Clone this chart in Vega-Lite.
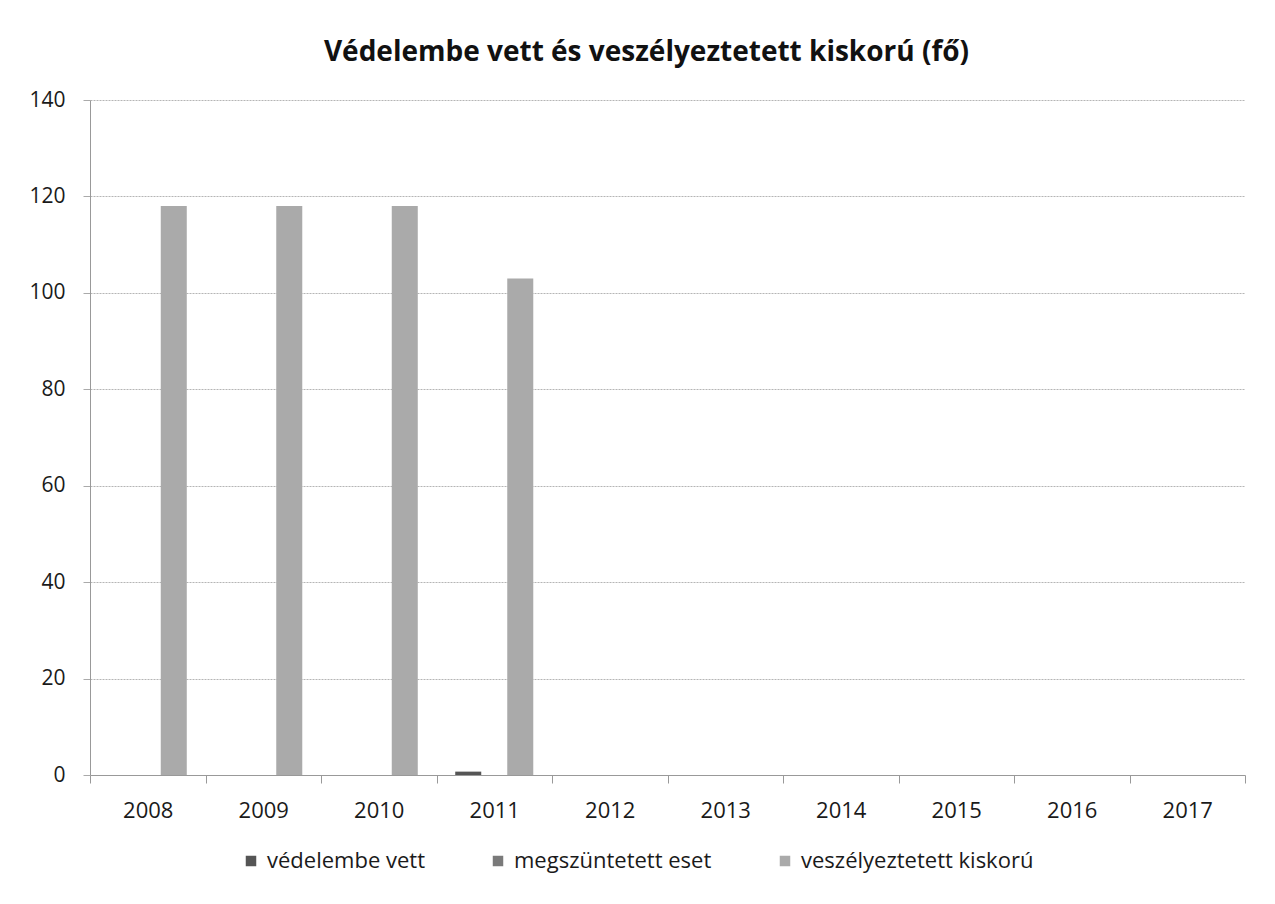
{
  "$schema": "https://vega.github.io/schema/vega-lite/v6.json",
  "width": 1155,
  "height": 675,
  "autosize": {"type": "none"},
  "padding": {"left": 90, "top": 100, "right": 30, "bottom": 129},
  "background": "white",
  "title": {
    "text": "Védelembe vett és veszélyeztetett kiskorú (fő)",
    "font": "Open Sans",
    "fontSize": 28,
    "fontWeight": "bold",
    "color": "#111111",
    "anchor": "middle",
    "dx": -21,
    "offset": 22
  },
  "data": {
    "values": [
      {"ev": "2008", "sorozat": "védelembe vett", "fo": 0},
      {"ev": "2008", "sorozat": "megszüntetett eset", "fo": 0},
      {"ev": "2008", "sorozat": "veszélyeztetett kiskorú", "fo": 118},
      {"ev": "2009", "sorozat": "védelembe vett", "fo": 0},
      {"ev": "2009", "sorozat": "megszüntetett eset", "fo": 0},
      {"ev": "2009", "sorozat": "veszélyeztetett kiskorú", "fo": 118},
      {"ev": "2010", "sorozat": "védelembe vett", "fo": 0},
      {"ev": "2010", "sorozat": "megszüntetett eset", "fo": 0},
      {"ev": "2010", "sorozat": "veszélyeztetett kiskorú", "fo": 118},
      {"ev": "2011", "sorozat": "védelembe vett", "fo": 0.7},
      {"ev": "2011", "sorozat": "megszüntetett eset", "fo": 0},
      {"ev": "2011", "sorozat": "veszélyeztetett kiskorú", "fo": 103},
      {"ev": "2012", "sorozat": "védelembe vett", "fo": 0},
      {"ev": "2012", "sorozat": "megszüntetett eset", "fo": 0},
      {"ev": "2012", "sorozat": "veszélyeztetett kiskorú", "fo": 0},
      {"ev": "2013", "sorozat": "védelembe vett", "fo": 0},
      {"ev": "2013", "sorozat": "megszüntetett eset", "fo": 0},
      {"ev": "2013", "sorozat": "veszélyeztetett kiskorú", "fo": 0},
      {"ev": "2014", "sorozat": "védelembe vett", "fo": 0},
      {"ev": "2014", "sorozat": "megszüntetett eset", "fo": 0},
      {"ev": "2014", "sorozat": "veszélyeztetett kiskorú", "fo": 0},
      {"ev": "2015", "sorozat": "védelembe vett", "fo": 0},
      {"ev": "2015", "sorozat": "megszüntetett eset", "fo": 0},
      {"ev": "2015", "sorozat": "veszélyeztetett kiskorú", "fo": 0},
      {"ev": "2016", "sorozat": "védelembe vett", "fo": 0},
      {"ev": "2016", "sorozat": "megszüntetett eset", "fo": 0},
      {"ev": "2016", "sorozat": "veszélyeztetett kiskorú", "fo": 0},
      {"ev": "2017", "sorozat": "védelembe vett", "fo": 0},
      {"ev": "2017", "sorozat": "megszüntetett eset", "fo": 0},
      {"ev": "2017", "sorozat": "veszélyeztetett kiskorú", "fo": 0}
    ]
  },
  "mark": {"type": "bar"},
  "encoding": {
    "x": {
      "field": "ev",
      "type": "nominal",
      "sort": null,
      "scale": {"paddingInner": 0, "paddingOuter": 0},
      "axis": {
        "title": null,
        "labelAngle": 0,
        "labelFont": "Open Sans",
        "labelFontSize": 22,
        "labelColor": "#1a1a1a",
        "labelPadding": 17,
        "tickBand": "extent",
        "tickSize": 8,
        "tickColor": "#999999",
        "domainColor": "#999999",
        "grid": false
      }
    },
    "xOffset": {
      "field": "sorozat",
      "type": "nominal",
      "sort": ["védelembe vett", "megszüntetett eset", "veszélyeztetett kiskorú"],
      "scale": {"paddingInner": 0, "paddingOuter": 0.72}
    },
    "y": {
      "field": "fo",
      "type": "quantitative",
      "scale": {"domain": [0, 140], "nice": false},
      "axis": {
        "title": null,
        "values": [0, 20, 40, 60, 80, 100, 120, 140],
        "labelFont": "Open Sans",
        "labelFontSize": 21,
        "labelColor": "#1a1a1a",
        "labelPadding": 18,
        "tickSize": 7,
        "tickColor": "#aaaaaa",
        "domainColor": "#999999",
        "gridColor": "#b5b5b5",
        "gridDash": [2, 1]
      }
    },
    "color": {
      "field": "sorozat",
      "type": "nominal",
      "sort": ["védelembe vett", "megszüntetett eset", "veszélyeztetett kiskorú"],
      "scale": {
        "domain": ["védelembe vett", "megszüntetett eset", "veszélyeztetett kiskorú"],
        "range": ["#555555", "#7a7a7a", "#aaaaaa"]
      },
      "legend": {
        "title": null,
        "orient": "none",
        "direction": "horizontal",
        "legendX": 150,
        "legendY": 750,
        "symbolType": "square",
        "symbolSize": 110,
        "symbolStrokeWidth": 0,
        "labelFont": "Open Sans",
        "labelFontSize": 22,
        "labelColor": "#1a1a1a",
        "labelLimit": 0,
        "columnPadding": 62,
        "labelOffset": 5
      }
    }
  },
  "config": {
    "view": {"stroke": null}
  }
}
